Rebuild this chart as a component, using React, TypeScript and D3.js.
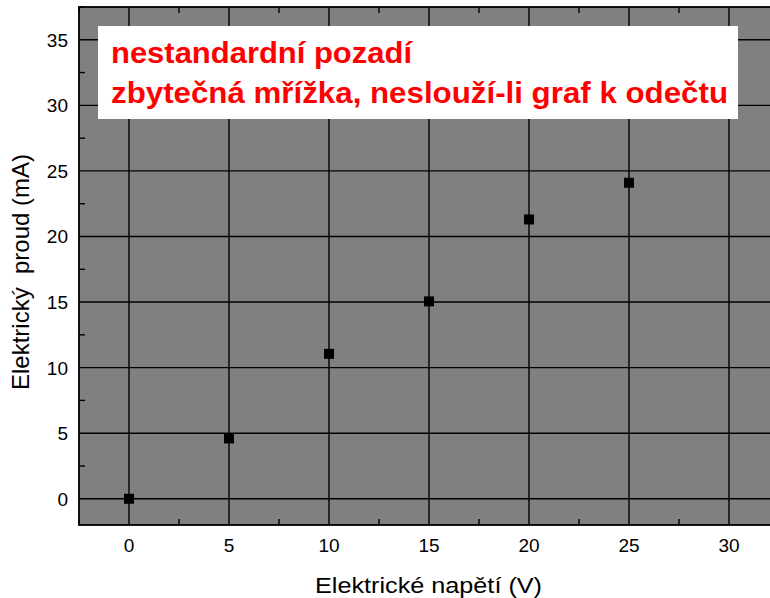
import React from "react";
import * as d3 from "d3";

const voltage = [0, 5, 10, 15, 20, 25];
const current = [0, 4.6, 11.05, 15.05, 21.3, 24.1];
const xTicks = [0, 5, 10, 15, 20, 25, 30];
const yTicks = [0, 5, 10, 15, 20, 25, 30, 35];
const noteLines = ["nestandardní pozadí", "zbytečná mřížka, neslouží-li graf k odečtu"];
const noteWidths = [301, 617];
const xTitle = "Elektrické napětí (V)";
const yTitle = "Elektrický  proud (mA)";

const W = 770, H = 598;
const L = 79, T = 7, B = 525, R = 779;

export default function App() {
  const x = d3.scaleLinear().domain([-2.5, 32.5]).range([L, R]);
  const y = d3.scaleLinear().domain([-2, 37.5]).range([B, T]);
  const xMinor = d3.range(-2.5, 32.6, 2.5).filter((v) => !xTicks.includes(v));
  const yMinor = d3.range(-2.5, 37.6, 2.5).filter((v) => v > -2 && !yTicks.includes(v));
  const font = "Arial, 'Liberation Sans', sans-serif";
  return (
    <svg width={W} height={H} style={{ position: "absolute", left: 0, top: 0 }} fontFamily={font}>
      <rect x={0} y={0} width={W} height={H} fill="#fff" />
      <rect x={L} y={T} width={R - L} height={B - T} fill="#808080" />
      {xTicks.map((v) => (
        <line key={"gx" + v} x1={x(v)} x2={x(v)} y1={T} y2={B} stroke="#000" strokeWidth={1.4} />
      ))}
      {yTicks.map((v) => (
        <line key={"gy" + v} x1={L} x2={R} y1={y(v)} y2={y(v)} stroke="#000" strokeWidth={1.4} />
      ))}
      {xMinor.map((v) => (
        <g key={"mx" + v}>
          <line x1={x(v)} x2={x(v)} y1={B} y2={B - 6} stroke="#000" strokeWidth={1.4} />
          <line x1={x(v)} x2={x(v)} y1={T} y2={T + 6} stroke="#000" strokeWidth={1.4} />
        </g>
      ))}
      {yMinor.map((v) => (
        <line key={"my" + v} x1={L} x2={L + 6} y1={y(v)} y2={y(v)} stroke="#000" strokeWidth={1.4} />
      ))}
      <rect x={L} y={T} width={R - L} height={B - T} fill="none" stroke="#000" strokeWidth={1.8} />
      {voltage.map((v, i) => (
        <rect key={"p" + i} x={x(v) - 5} y={y(current[i]) - 5} width={10} height={10} fill="#000" />
      ))}
      {xTicks.map((v) => (
        <text key={"tx" + v} x={x(v)} y={552} textAnchor="middle" fontSize={19} fill="#000">{v}</text>
      ))}
      {yTicks.map((v) => (
        <text key={"ty" + v} x={68} y={y(v) + 7} textAnchor="end" fontSize={19} fill="#000">{v}</text>
      ))}
      <text x={315} y={593} fontSize={22} fill="#000" textLength={227} lengthAdjust="spacingAndGlyphs">{xTitle}</text>
      <text transform={`translate(29,272) rotate(-90)`} textAnchor="middle" fontSize={24} fill="#000" style={{ whiteSpace: "pre" }}>{yTitle}</text>
      <rect x={98} y={26} width={640} height={93} fill="#fff" />
      {noteLines.map((t, i) => (
        <text key={"n" + i} x={111} y={63 + i * 40} fontSize={29} fontWeight="bold" fill="#ff0000" textLength={noteWidths[i]} lengthAdjust="spacingAndGlyphs">{t}</text>
      ))}
    </svg>
  );
}
